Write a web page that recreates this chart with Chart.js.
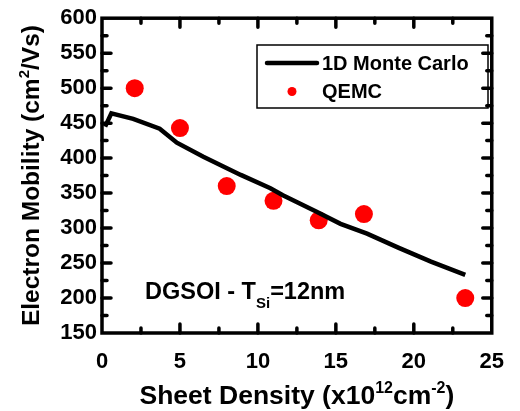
<!DOCTYPE html>
<html>
<head>
<meta charset="utf-8">
<script src="https://cdn.jsdelivr.net/npm/chart.js@4.4.0/dist/chart.umd.min.js"></script>
<style>
  body { margin: 0; background: #fff; }
</style>
</head>
<body>
<canvas id="grafico" width="520" height="411"></canvas>
<script>
// 1D Monte Carlo curve
var mcDensidade = [0.2, 0.6, 2.0, 3.7, 4.8, 6.5, 8.9, 10.8, 11.6, 13.7, 15.3, 17.0, 19.0, 21.1, 23.3];
var mcMobilidade = [445, 464, 456, 442, 422, 402, 376, 357, 347, 324, 306, 292, 272, 252, 233];
// QEMC points
var qemcDensidade = [2.1, 5.0, 8.0, 11.0, 13.9, 16.8, 23.3];
var qemcMobilidade = [500, 443, 360, 339, 311, 320, 200];

var fonte = '"Liberation Sans", Arial, Helvetica, sans-serif';

function montarPontos(xs, ys){
    var pontos = [];
    for (var i = 0; i < xs.length; i++) {
        pontos.push({x: xs[i], y: ys[i]});
    }
    return pontos;
}

// draws text pieces with super/subscripts, starting at x
function textoComposto(ctx, partes, x, y){
    for (var i = 0; i < partes.length; i++) {
        var p = partes[i];
        ctx.font = 'bold ' + p.tam + 'px ' + fonte;
        ctx.fillText(p.t, x, y + (p.dy || 0));
        x += ctx.measureText(p.t).width;
    }
    return x;
}

function larguraComposta(ctx, partes){
    var w = 0;
    for (var i = 0; i < partes.length; i++) {
        ctx.font = 'bold ' + partes[i].tam + 'px ' + fonte;
        w += ctx.measureText(partes[i].t).width;
    }
    return w;
}

var moldura = {
    id: 'moldura',
    afterDraw: function(chart){
        var ctx = chart.ctx;
        var area = chart.chartArea;
        var sx = chart.scales.x, sy = chart.scales.y;
        ctx.save();
        ctx.strokeStyle = '#000';
        ctx.fillStyle = '#000';

        // ticks pointing inward on all four sides
        ctx.lineWidth = 3.5;
        ctx.lineCap = 'round';
        for (var v = sx.min + 2.5; v < sx.max; v += 2.5) {
            var px = sx.getPixelForValue(v);
            var len = (v % 5 == 0) ? 9 : 5;
            ctx.beginPath();
            ctx.moveTo(px, area.bottom); ctx.lineTo(px, area.bottom - len);
            ctx.moveTo(px, area.top); ctx.lineTo(px, area.top + len);
            ctx.stroke();
        }
        for (var w = sy.min + 25; w < sy.max; w += 25) {
            var py = sy.getPixelForValue(w);
            var len2 = (w % 50 == 0) ? 9 : 5;
            ctx.beginPath();
            ctx.moveTo(area.left, py); ctx.lineTo(area.left + len2, py);
            ctx.moveTo(area.right, py); ctx.lineTo(area.right - len2, py);
            ctx.stroke();
        }

        // frame
        ctx.lineWidth = 3.5;
        ctx.lineCap = 'butt';
        ctx.strokeRect(area.left, area.top, area.right - area.left, area.bottom - area.top);

        // legend box
        var ds = chart.data.datasets;
        ctx.lineWidth = 1.5;
        ctx.strokeRect(257, 45, 231, 63);
        ctx.lineWidth = 4.5;
        ctx.lineCap = 'round';
        ctx.beginPath();
        ctx.moveTo(267, 63); ctx.lineTo(317, 63);
        ctx.stroke();
        ctx.fillStyle = ds[1].backgroundColor;
        ctx.beginPath();
        ctx.arc(292, 91.5, 4.5, 0, Math.PI * 2);
        ctx.fill();
        ctx.fillStyle = '#000';
        ctx.font = 'bold 20px ' + fonte;
        ctx.textBaseline = 'middle';
        ctx.textAlign = 'left';
        ctx.fillText(ds[0].label, 322, 64);
        ctx.fillText(ds[1].label, 322, 92);

        // annotation
        ctx.textBaseline = 'alphabetic';
        textoComposto(ctx, [
            {t: 'DGSOI - T', tam: 23.5},
            {t: 'Si', tam: 15, dy: 9},
            {t: '=12nm', tam: 23.5}
        ], 145, 299);

        // x axis title
        var tituloX = [
            {t: 'Sheet Density (x10', tam: 26.5},
            {t: '12', tam: 16, dy: -11},
            {t: 'cm', tam: 26.5},
            {t: '-2', tam: 16, dy: -11},
            {t: ')', tam: 26.5}
        ];
        var cx = (area.left + area.right) / 2;
        textoComposto(ctx, tituloX, cx - larguraComposta(ctx, tituloX) / 2, 404);

        // y axis title
        var tituloY = [
            {t: 'Electron Mobility (cm', tam: 24.5},
            {t: '2', tam: 15, dy: -10},
            {t: '/Vs)', tam: 24.5}
        ];
        var cy = (area.top + area.bottom) / 2;
        ctx.translate(39, cy);
        ctx.rotate(-Math.PI / 2);
        textoComposto(ctx, tituloY, -larguraComposta(ctx, tituloY) / 2, 0);
        ctx.restore();
    }
};

function criarGrafico(ctx){
    var config = {
        type: 'scatter',
        data: {
            datasets: [{
                label: '1D Monte Carlo',
                type: 'line',
                data: montarPontos(mcDensidade, mcMobilidade),
                borderColor: '#000',
                backgroundColor: '#000',
                borderWidth: 4.5,
                pointRadius: 0,
                tension: 0,
                fill: false
            }, {
                label: 'QEMC',
                data: montarPontos(qemcDensidade, qemcMobilidade),
                backgroundColor: '#ff0000',
                borderWidth: 0,
                pointRadius: 9
            }]
        },
        options: {
            responsive: false,
            animation: false,
            layout: { padding: { top: 17, right: 13, left: 0, bottom: 0 } },
            plugins: {
                legend: { display: false },
                tooltip: { enabled: false }
            },
            scales: {
                x: {
                    type: 'linear',
                    min: 0,
                    max: 25,
                    grid: { display: false, drawTicks: false },
                    border: { display: false },
                    ticks: {
                        stepSize: 5,
                        padding: 16,
                        color: '#000',
                        font: { family: fonte, size: 22, weight: 'bold' },
                        maxRotation: 0
                    },
                    afterFit: function(scale){ scale.height = 78; }
                },
                y: {
                    min: 150,
                    max: 600,
                    grid: { display: false, drawTicks: false },
                    border: { display: false },
                    ticks: {
                        stepSize: 50,
                        padding: 5,
                        color: '#000',
                        font: { family: fonte, size: 22, weight: 'bold' }
                    },
                    afterFit: function(scale){ scale.width = 102; }
                }
            }
        },
        plugins: [moldura]
    };
    return new Chart(ctx, config);
}

criarGrafico(document.getElementById('grafico'));
</script>
</body>
</html>
